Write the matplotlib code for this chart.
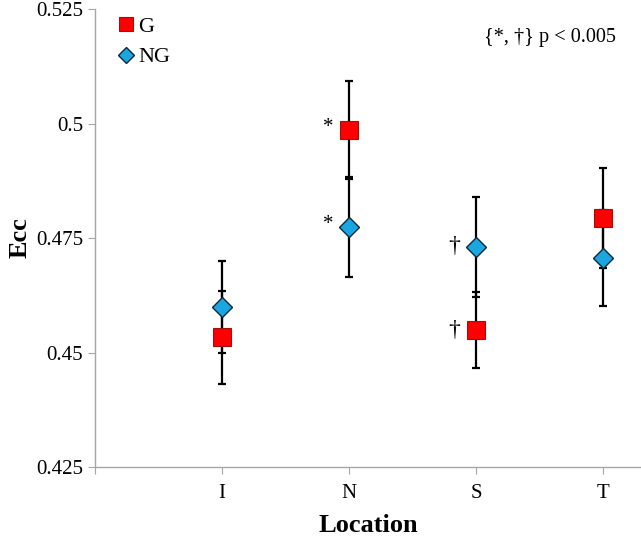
import matplotlib
matplotlib.use("Agg")
import matplotlib.pyplot as plt
from matplotlib.lines import Line2D

plt.rcParams['font.family'] = ['Liberation Serif', 'DejaVu Serif']

# data
locations = ['I', 'N', 'S', 'T']
g_vals = [0.4533, 0.4986, 0.4549, 0.4794]
g_err = [0.0102, 0.0108, 0.0083, 0.0109]
ng_vals = [0.4600, 0.4775, 0.4731, 0.4706]
ng_err = [0.0100, 0.0109, 0.0109, 0.0105]
xpos = [1, 2, 3, 4]

fig = plt.figure(figsize=(6.41, 5.38), dpi=100)
ax = fig.add_axes([0.148, 0.132, 0.852, 0.851])

# error bars first, markers on top
ax.errorbar(xpos, g_vals, yerr=g_err, fmt='none', ecolor='black',
            elinewidth=1.6, capsize=3.2, capthick=1.6, zorder=2)
ax.errorbar(xpos, ng_vals, yerr=ng_err, fmt='none', ecolor='black',
            elinewidth=1.6, capsize=3.2, capthick=1.6, zorder=2)
ax.plot(xpos, g_vals, 's', ms=12.5, mfc='#ff0000', mec='#a01010',
        mew=0.8, ls='none', zorder=3)
ax.plot(xpos, ng_vals, 'D', ms=10, mfc='#1aa7e0', mec='#0a2a40',
        mew=1.0, ls='none', zorder=4)

# significance marks
ax.text(2 - 0.165, g_vals[1] + 0.0005, '*', fontsize=15, ha='center', va='center')
ax.text(2 - 0.165, ng_vals[1] + 0.0005, '*', fontsize=15, ha='center', va='center')
ax.text(3 - 0.17, ng_vals[2], '†', fontsize=17, ha='center', va='center')
ax.text(3 - 0.17, g_vals[2], '†', fontsize=17, ha='center', va='center')

ax.text(0.954, 0.937, '{*, †} p < 0.005', transform=ax.transAxes,
        fontsize=14.6, ha='right', va='center')

ax.set_xlim(0, 4.3)
ax.set_ylim(0.425, 0.525)
ax.set_yticks([0.425, 0.45, 0.475, 0.5, 0.525])
ax.set_yticklabels(['0.425', '0.45', '0.475', '0.5', '0.525'])
ax.set_xticks([0] + xpos)
ax.set_xticklabels([''] + locations)

for s in ['top', 'right']:
    ax.spines[s].set_visible(False)
for s in ['left', 'bottom']:
    ax.spines[s].set_color('#a6a6a6')
    ax.spines[s].set_linewidth(1.0)
ax.tick_params(axis='both', colors='#a6a6a6', labelcolor='black',
               labelsize=15, length=5, direction='out')
ax.tick_params(axis='x', pad=7)

ax.set_xlabel('Location', fontsize=19, fontweight='bold', labelpad=8)
ax.set_ylabel('Ecc', fontsize=19, fontweight='bold', labelpad=3)

handles = [
    Line2D([], [], marker='s', ls='none', ms=10.5, mfc='#ff0000', mec='#a01010', mew=0.8),
    Line2D([], [], marker='D', ls='none', ms=8.5, mfc='#1aa7e0', mec='#0a2a40', mew=1.0),
]
ax.legend(handles, ['G', 'NG'], loc='upper left', bbox_to_anchor=(0.0, 1.028),
          frameon=False, fontsize=16, handletextpad=0.05, labelspacing=0.45,
          handlelength=1.0)

fig.savefig('out.png', dpi=100)
